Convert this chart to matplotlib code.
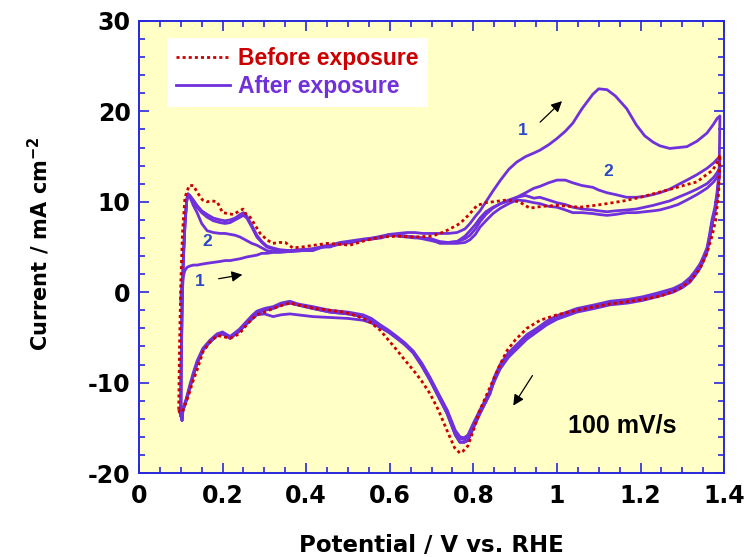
import matplotlib.pyplot as plt

plt.rcParams['font.family'] = ['DejaVu Sans']
plt.rcParams['mathtext.default'] = 'regular'
plt.rcParams['axes.unicode_minus'] = False

# potential grid for the anodic (forward) sweeps of the "after" cycles, V vs RHE
anod_x = [0.100, 0.101, 0.103, 0.106, 0.110, 0.114, 0.117, 0.122, 0.130, 0.139,
          0.150, 0.163, 0.178, 0.194, 0.206, 0.218, 0.230, 0.242, 0.250, 0.258,
          0.270, 0.282, 0.294, 0.306, 0.320, 0.337, 0.360, 0.390, 0.416, 0.440,
          0.457, 0.481, 0.510, 0.540, 0.560, 0.580, 0.600, 0.620, 0.641, 0.660,
          0.679, 0.700, 0.720, 0.740, 0.761, 0.780, 0.792, 0.805, 0.816, 0.830,
          0.847, 0.865, 0.885, 0.904, 0.925, 0.945, 0.959, 0.980, 1.000, 1.020,
          1.038, 1.060, 1.086, 1.100, 1.120, 1.140, 1.167, 1.190, 1.210, 1.230,
          1.246, 1.270, 1.290, 1.311, 1.335, 1.359, 1.375, 1.383, 1.390]

# current, mA cm-2
anod_y_c1 = [-1.0, 0.0, 1.0, 1.8, 2.4, 2.7, 2.8, 2.9, 3.0, 3.0,
             3.1, 3.2, 3.3, 3.4, 3.5, 3.5, 3.6, 3.7, 3.8, 3.9,
             4.0, 4.1, 4.3, 4.3, 4.4, 4.4, 4.5, 4.6, 4.8, 5.0,
             5.1, 5.3, 5.5, 5.8, 6.0, 6.2, 6.4, 6.5, 6.6, 6.6,
             6.5, 6.5, 6.5, 6.5, 6.6, 7.0, 7.6, 8.4, 9.0, 10.0,
             11.2, 12.4, 13.6, 14.4, 15.0, 15.4, 15.7, 16.3, 17.0, 17.8,
             18.7, 20.3, 21.9, 22.5, 22.4, 21.7, 20.3, 18.5, 17.3, 16.6,
             16.2, 15.9, 16.0, 16.1, 16.7, 17.6, 18.6, 19.2, 19.5]
anod_y_c2 = [-13.6, -8.0, -2.0, 3.5, 7.5, 10.0, 10.8, 10.5, 9.6, 8.8,
             7.6, 6.8, 6.6, 6.5, 6.5, 6.4, 6.3, 6.1, 5.9, 5.7,
             5.4, 5.2, 4.9, 4.6, 4.5, 4.5, 4.6, 4.7, 4.8, 5.0,
             5.1, 5.4, 5.6, 5.8, 5.9, 6.1, 6.3, 6.3, 6.2, 6.1,
             6.0, 5.9, 5.6, 5.5, 5.6, 6.2, 6.8, 7.5, 8.2, 8.9,
             9.4, 9.8, 10.2, 10.5, 11.0, 11.5, 11.7, 12.1, 12.4, 12.4,
             12.1, 11.8, 11.6, 11.3, 11.0, 10.8, 10.5, 10.5, 10.6, 10.8,
             11.0, 11.4, 11.9, 12.4, 13.0, 13.7, 14.3, 14.7, 15.0]
anod_y_c3 = [-13.6, -8.0, -2.0, 3.5, 7.5, 10.0, 10.8, 10.6, 10.0, 9.4,
             8.8, 8.3, 7.9, 7.7, 7.6, 7.7, 8.0, 8.3, 8.5, 8.2,
             7.2, 6.1, 5.5, 5.0, 4.8, 4.6, 4.5, 4.6, 4.6, 5.0,
             5.0, 5.4, 5.6, 5.8, 5.9, 6.0, 6.3, 6.2, 6.1, 6.0,
             6.0, 5.8, 5.4, 5.4, 5.4, 5.5, 5.8, 6.4, 7.2, 7.9,
             8.7, 9.3, 9.8, 10.2, 10.1, 9.9, 9.8, 9.5, 9.4, 9.1,
             8.8, 8.8, 8.7, 8.6, 8.5, 8.6, 8.8, 8.8, 8.9, 9.0,
             9.1, 9.4, 9.7, 10.2, 10.8, 11.5, 12.2, 12.7, 13.3]
anod_y_c4 = [-13.4, -7.5, -1.5, 3.8, 7.8, 10.2, 10.9, 10.7, 10.2, 9.6,
             9.0, 8.6, 8.2, 8.0, 7.9, 8.0, 8.2, 8.6, 8.8, 8.4,
             7.4, 6.3, 5.6, 5.1, 4.9, 4.7, 4.6, 4.7, 4.7, 5.1,
             5.2, 5.5, 5.7, 5.9, 6.0, 6.1, 6.4, 6.3, 6.2, 6.1,
             5.9, 5.7, 5.5, 5.5, 5.6, 5.9, 6.3, 7.0, 7.8, 8.6,
             9.3, 9.8, 10.1, 10.5, 10.7, 10.4, 10.5, 10.2, 9.9, 9.7,
             9.4, 9.2, 9.1, 9.0, 8.9, 9.0, 9.1, 9.2, 9.4, 9.6,
             9.8, 10.1, 10.5, 10.9, 11.4, 12.0, 12.7, 13.2, 13.8]

# cathodic (reverse) sweeps of the "after" cycles
cath_x = [1.388, 1.383, 1.378, 1.371, 1.365, 1.359, 1.350, 1.342, 1.330, 1.318,
          1.300, 1.278, 1.240, 1.206, 1.170, 1.127, 1.090, 1.048, 1.000, 0.976,
          0.952, 0.928, 0.904, 0.884, 0.864, 0.850, 0.840, 0.828, 0.816, 0.800,
          0.787, 0.778, 0.768, 0.757, 0.737, 0.716, 0.696, 0.676, 0.656, 0.636,
          0.617, 0.597, 0.577, 0.556, 0.536, 0.500, 0.457, 0.416, 0.380, 0.361,
          0.340, 0.321, 0.300, 0.282, 0.270, 0.258, 0.240, 0.218, 0.200, 0.187,
          0.170, 0.153, 0.139, 0.130, 0.122, 0.113, 0.105, 0.103, 0.100]
cath_y_c1 = [12.7, 10.3, 8.8, 7.4, 5.8, 4.4, 3.4, 2.6, 1.8, 1.1,
             0.5, 0.0, -0.5, -0.9, -1.2, -1.4, -1.8, -2.2, -3.0, -3.6,
             -4.4, -5.2, -6.3, -7.2, -8.5, -9.9, -11.0, -12.0, -13.0, -14.5,
             -15.8, -16.1, -16.0, -15.3, -13.0, -11.2, -9.5, -7.9, -6.6, -5.7,
             -5.0, -4.4, -3.9, -3.4, -3.1, -2.9, -2.8, -2.7, -2.5, -2.4,
             -2.5, -2.7, -2.4, -2.5, -3.0, -3.5, -4.3, -5.0, -4.6, -4.7,
             -5.4, -6.3, -7.8, -9.1, -10.4, -11.9, -13.0, -14.0, -13.6]
cath_y_stable = [12.7, 10.5, 9.0, 7.6, 6.0, 4.6, 3.6, 2.8, 2.0, 1.3,
                 0.7, 0.2, -0.3, -0.7, -1.0, -1.2, -1.6, -2.0, -2.8, -3.4,
                 -4.2, -5.0, -6.1, -7.0, -8.3, -9.7, -11.2, -12.3, -13.4, -15.0,
                 -16.4, -16.6, -16.6, -15.8, -13.4, -11.5, -9.7, -8.1, -6.7, -5.8,
                 -5.1, -4.4, -3.8, -3.1, -2.7, -2.4, -2.2, -1.8, -1.4, -1.2,
                 -1.4, -1.8, -2.0, -2.3, -2.8, -3.4, -4.3, -5.1, -4.6, -4.8,
                 -5.5, -6.4, -7.9, -9.2, -10.5, -12.0, -13.1, -14.2, -13.6]
cath_y_c4 = [13.2, 11.0, 9.4, 8.0, 6.3, 4.9, 3.9, 3.1, 2.3, 1.6,
             0.9, 0.4, -0.1, -0.5, -0.8, -1.0, -1.4, -1.8, -2.6, -3.2,
             -4.0, -4.7, -5.8, -6.7, -8.0, -9.4, -10.9, -12.0, -13.2, -14.8,
             -16.0, -16.3, -16.2, -15.5, -13.1, -11.2, -9.4, -7.8, -6.5, -5.6,
             -4.9, -4.2, -3.6, -2.9, -2.5, -2.2, -2.0, -1.6, -1.3, -1.0,
             -1.2, -1.6, -1.8, -2.1, -2.6, -3.2, -4.1, -4.9, -4.4, -4.6,
             -5.3, -6.2, -7.6, -8.9, -10.2, -11.8, -12.9, -13.8, -13.4]

# before exposure (single cycle)
bef_anod_x = [0.095, 0.097, 0.100, 0.104, 0.110, 0.120, 0.130, 0.140, 0.152, 0.163,
              0.175, 0.187, 0.200, 0.213, 0.225, 0.237, 0.249, 0.258, 0.266, 0.278,
              0.290, 0.306, 0.320, 0.335, 0.350, 0.368, 0.390, 0.420, 0.450, 0.480,
              0.505, 0.540, 0.577, 0.620, 0.656, 0.700, 0.720, 0.740, 0.768, 0.790,
              0.809, 0.830, 0.847, 0.880, 0.910, 0.935, 0.965, 1.000, 1.030, 1.055,
              1.090, 1.120, 1.160, 1.200, 1.240, 1.280, 1.310, 1.335, 1.355, 1.373,
              1.385, 1.390]
bef_anod_y = [-13.0, -6.0, 1.0, 6.5, 10.5, 11.8, 11.8, 11.0, 10.2, 10.0,
              10.1, 10.0, 8.8, 8.7, 8.6, 8.9, 9.2, 8.5, 8.3, 7.4,
              6.5, 5.8, 5.4, 5.5, 5.5, 4.9, 5.0, 5.2, 5.4, 5.3,
              5.2, 5.7, 6.1, 6.2, 6.1, 6.2, 6.5, 6.9, 7.6, 8.6,
              9.6, 9.9, 10.0, 10.2, 10.0, 9.3, 9.5, 9.6, 9.5, 9.4,
              9.6, 9.8, 10.1, 10.5, 11.0, 11.5, 11.9, 12.2, 12.9, 13.5,
              14.5, 15.2]
bef_cath_x = [1.387, 1.380, 1.371, 1.359, 1.342, 1.318, 1.290, 1.250, 1.206, 1.160,
              1.127, 1.090, 1.048, 1.000, 0.960, 0.928, 0.900, 0.880, 0.864, 0.840,
              0.816, 0.800, 0.787, 0.775, 0.768, 0.755, 0.737, 0.716, 0.696, 0.676,
              0.656, 0.636, 0.617, 0.597, 0.577, 0.550, 0.520, 0.490, 0.457, 0.420,
              0.390, 0.361, 0.340, 0.321, 0.300, 0.282, 0.270, 0.258, 0.240, 0.218,
              0.200, 0.187, 0.170, 0.153, 0.139, 0.128, 0.118, 0.110, 0.104, 0.100,
              0.097, 0.095]
bef_cath_y = [11.0, 8.0, 6.2, 4.3, 2.6, 1.2, 0.3, -0.4, -0.8, -1.1,
              -1.3, -1.6, -2.0, -2.5, -3.1, -4.0, -5.3, -6.5, -8.0, -10.5,
              -13.0, -15.3, -17.0, -17.6, -17.8, -17.2, -15.3, -13.0, -11.2, -9.8,
              -8.6, -7.5, -6.4, -5.3, -4.2, -3.2, -2.6, -2.2, -2.0, -1.8,
              -1.5, -1.2, -1.5, -1.8, -2.2, -2.5, -3.0, -3.6, -4.6, -5.1,
              -4.9, -4.8, -5.5, -6.6, -8.6, -10.0, -11.5, -12.5, -13.2, -13.3,
              -13.3, -13.0]

x_ticks = [0, 0.2, 0.4, 0.6, 0.8, 1.0, 1.2, 1.4]
x_tick_labels = ['0', '0.2', '0.4', '0.6', '0.8', '1', '1.2', '1.4']
y_ticks = [-20, -10, 0, 10, 20, 30]
y_tick_labels = ['-20', '-10', '0', '10', '20', '30']

purple = '#7030dc'
red = '#cc0000'
blue = '#2828dc'

fig = plt.figure(figsize=(7.53, 5.57), dpi=100)
ax = fig.add_axes([0.1846, 0.1508, 0.777, 0.8115])
ax.set_facecolor('#ffffc6')

cycles = [(anod_y_c1, cath_y_c1), (anod_y_c2, cath_y_stable),
          (anod_y_c3, cath_y_stable), (anod_y_c4, cath_y_c4)]
for i, (ya, yc) in enumerate(cycles):
    ax.plot(anod_x + cath_x, ya + yc, color=purple, lw=2,
            label='After exposure' if i == 0 else None, zorder=2)

ax.plot(bef_anod_x + bef_cath_x, bef_anod_y + bef_cath_y, color=red, lw=2,
        ls=(0, (1.1, 1.1)), label='Before exposure', zorder=3)

ax.set_xlim(0, 1.4)
ax.set_ylim(-20, 30)
ax.set_xticks(x_ticks)
ax.set_xticklabels(x_tick_labels)
ax.set_yticks(y_ticks)
ax.set_yticklabels(y_tick_labels)
ax.set_xticks([i * 0.05 for i in range(29)], minor=True)
ax.set_yticks(list(range(-20, 31, 2)), minor=True)
ax.tick_params(which='both', direction='in', top=True, right=True, color=blue,
               width=1.2, labelsize=17, labelcolor='black')
ax.tick_params(which='major', length=7)
ax.tick_params(which='minor', length=4)
ax.tick_params(axis='x', pad=8)
ax.tick_params(axis='y', pad=6)
for lab in ax.get_xticklabels() + ax.get_yticklabels():
    lab.set_fontweight('bold')
for sp in ax.spines.values():
    sp.set_color(blue)
    sp.set_linewidth(1.4)

ax.set_xlabel('Potential / V vs. RHE', fontsize=16.5, fontweight='bold')
ax.xaxis.set_label_coords(0.5, -0.135)
ax.set_ylabel('Current / mA cm$^{-2}$', fontsize=15, fontweight='bold')
ax.yaxis.set_label_coords(-0.148, 0.507)

handles, labels = ax.get_legend_handles_labels()
leg = ax.legend(handles[::-1], labels[::-1], loc='upper left',
                bbox_to_anchor=(0.048, 0.962), borderaxespad=0,
                frameon=True, facecolor='white', edgecolor='none', framealpha=1,
                fancybox=False, prop={'family': 'Liberation Sans', 'weight': 'bold', 'size': 16.5},
                labelcolor=[red, purple], handlelength=2.35, handletextpad=0.35,
                borderpad=0.4, labelspacing=0.2)

label_blue = '#2a48c8'
ax.text(0.919, 17.9, '1', color=label_blue, fontsize=12.5, fontweight='bold',
        family='Liberation Sans', ha='center', va='center')
ax.text(1.122, 13.3, '2', color=label_blue, fontsize=12.5, fontweight='bold',
        family='Liberation Sans', ha='center', va='center')
ax.text(0.163, 5.6, '2', color=label_blue, fontsize=12.5, fontweight='bold',
        family='Liberation Sans', ha='center', va='center')
ax.text(0.146, 1.2, '1', color=label_blue, fontsize=12.5, fontweight='bold',
        family='Liberation Sans', ha='center', va='center')

arrow = dict(arrowstyle='-|>', color='black', lw=0.9, mutation_scale=16)
ax.annotate('', xy=(1.017, 21.35), xytext=(0.955, 18.6), arrowprops=arrow)
ax.annotate('', xy=(0.254, 1.99), xytext=(0.184, 1.44), arrowprops=arrow)
ax.annotate('', xy=(0.892, -12.8), xytext=(0.945, -8.96), arrowprops=arrow)

ax.text(1.156, -14.7, '100 mV/s', fontsize=18, fontweight='bold',
        family='Liberation Sans', ha='center', va='center')

fig.savefig('out.png', dpi=100)
